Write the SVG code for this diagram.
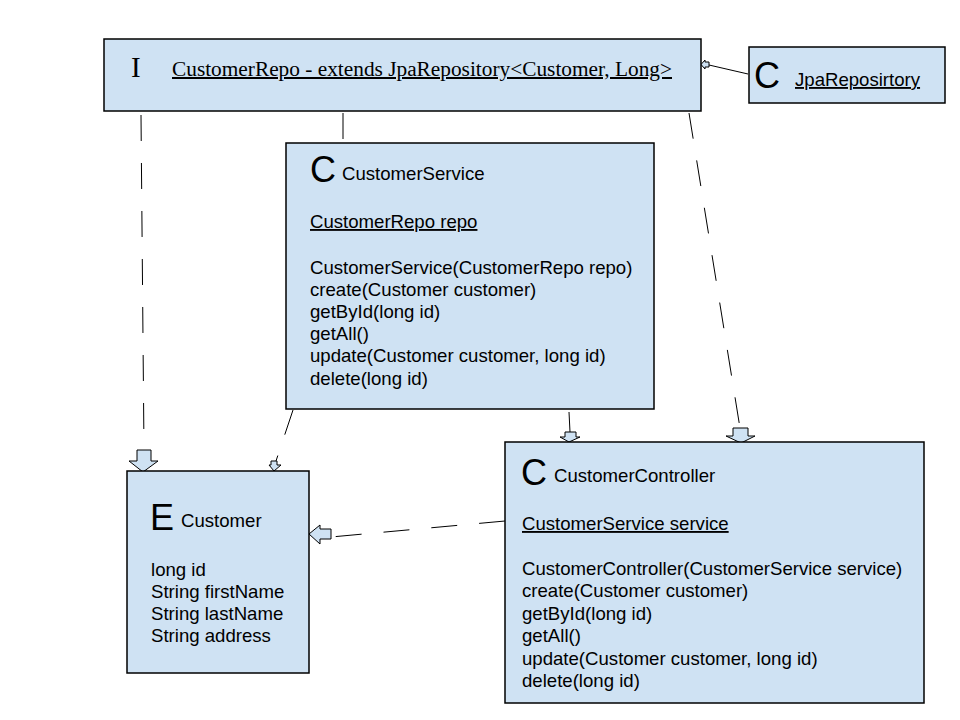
<svg xmlns="http://www.w3.org/2000/svg" width="960" height="720" viewBox="0 0 960 720">
<style>
.box{fill:#cfe2f3;stroke:#000;stroke-width:1.5}
.t{font-family:"Liberation Sans",Arial,sans-serif;font-size:18.6px;fill:#000}
.big{font-family:"Liberation Sans",Arial,sans-serif;font-size:36px;fill:#000}
.serif{font-family:"Liberation Serif","DejaVu Serif",serif;fill:#000}
.u{text-decoration:underline}
.dash{fill:none;stroke:#000;stroke-width:1;stroke-dasharray:26,22}
.solid{fill:none;stroke:#000;stroke-width:1}
.arr{fill:#cfe2f3;stroke:#000;stroke-width:1}
</style>
<rect width="960" height="720" fill="#fff"/>
<g id="connectors">
  <path class="dash" d="M141,115 L144,450"/>
  <path class="dash" d="M343,113 L343,143"/>
  <path class="dash" d="M293,410 L276,461"/>
  <path class="dash" d="M569,412 L570,432"/>
  <path class="dash" d="M689,113 L740,428"/>
  <path class="dash" d="M505,521 L331,537"/>
  <path class="solid" d="M748,74 L709,65"/>
  <!-- arrowheads -->
  <path class="arr" d="M137,450 L151,450 L151,461 L158,461 L143,472 L129,461 L137,461 Z"/>
  <path class="arr" d="M271,461 L277,461 L277,465 L281,465 L274,471 L269,465 L271,465 Z"/>
  <path class="arr" d="M565,432 L576,432 L576,437 L580,437 L569,442 L560,437 L565,437 Z"/>
  <path class="arr" d="M733,428 L748,428 L748,436 L755,436 L741,443 L726,436 L733,436 Z"/>
  <path class="arr" d="M331,529 L331,539 L320,539 L320,544 L309,534 L320,525 L320,529 Z"/>
  <path class="arr" d="M709,62 L709,67 L705,67 L705,69 L701,64.5 L705,60 L705,62 Z"/>
</g>
<g id="customerRepo">
  <rect class="box" x="104" y="39" width="597" height="72"/>
  <text class="serif" x="131" y="77" font-size="29">I</text>
  <text class="serif u" x="172" y="76" font-size="20" textLength="500" lengthAdjust="spacingAndGlyphs">CustomerRepo - extends JpaRepository&lt;Customer, Long&gt;</text>
</g>
<g id="jpaRepository">
  <rect class="box" x="749" y="47" width="196" height="56"/>
  <text class="big" x="754" y="88">C</text>
  <text class="t u" x="795" y="86">JpaReposirtory</text>
</g>
<g id="customerService">
  <rect class="box" x="286" y="143" width="368" height="266"/>
  <text class="big" x="310" y="182">C</text>
  <text class="t" x="342" y="180">CustomerService</text>
  <text class="t u" x="310" y="228">CustomerRepo repo</text>
  <text class="t" x="310" y="274">CustomerService(CustomerRepo repo)</text>
  <text class="t" x="310" y="296">create(Customer customer)</text>
  <text class="t" x="310" y="318">getById(long id)</text>
  <text class="t" x="310" y="340">getAll()</text>
  <text class="t" x="310" y="362">update(Customer customer, long id)</text>
  <text class="t" x="310" y="385">delete(long id)</text>
</g>
<g id="customer">
  <rect class="box" x="127" y="471" width="182" height="202"/>
  <text class="big" x="150" y="530">E</text>
  <text class="t" x="181" y="527">Customer</text>
  <text class="t" x="151" y="576">long id</text>
  <text class="t" x="151" y="598">String firstName</text>
  <text class="t" x="151" y="620">String lastName</text>
  <text class="t" x="151" y="642">String address</text>
</g>
<g id="customerController">
  <rect class="box" x="505" y="442" width="419" height="261"/>
  <text class="big" x="521" y="485">C</text>
  <text class="t" x="554" y="482">CustomerController</text>
  <text class="t u" x="522" y="530">CustomerService service</text>
  <text class="t" x="522" y="575">CustomerController(CustomerService service)</text>
  <text class="t" x="522" y="597">create(Customer customer)</text>
  <text class="t" x="522" y="620">getById(long id)</text>
  <text class="t" x="522" y="642">getAll()</text>
  <text class="t" x="522" y="665">update(Customer customer, long id)</text>
  <text class="t" x="522" y="687">delete(long id)</text>
</g>
</svg>
